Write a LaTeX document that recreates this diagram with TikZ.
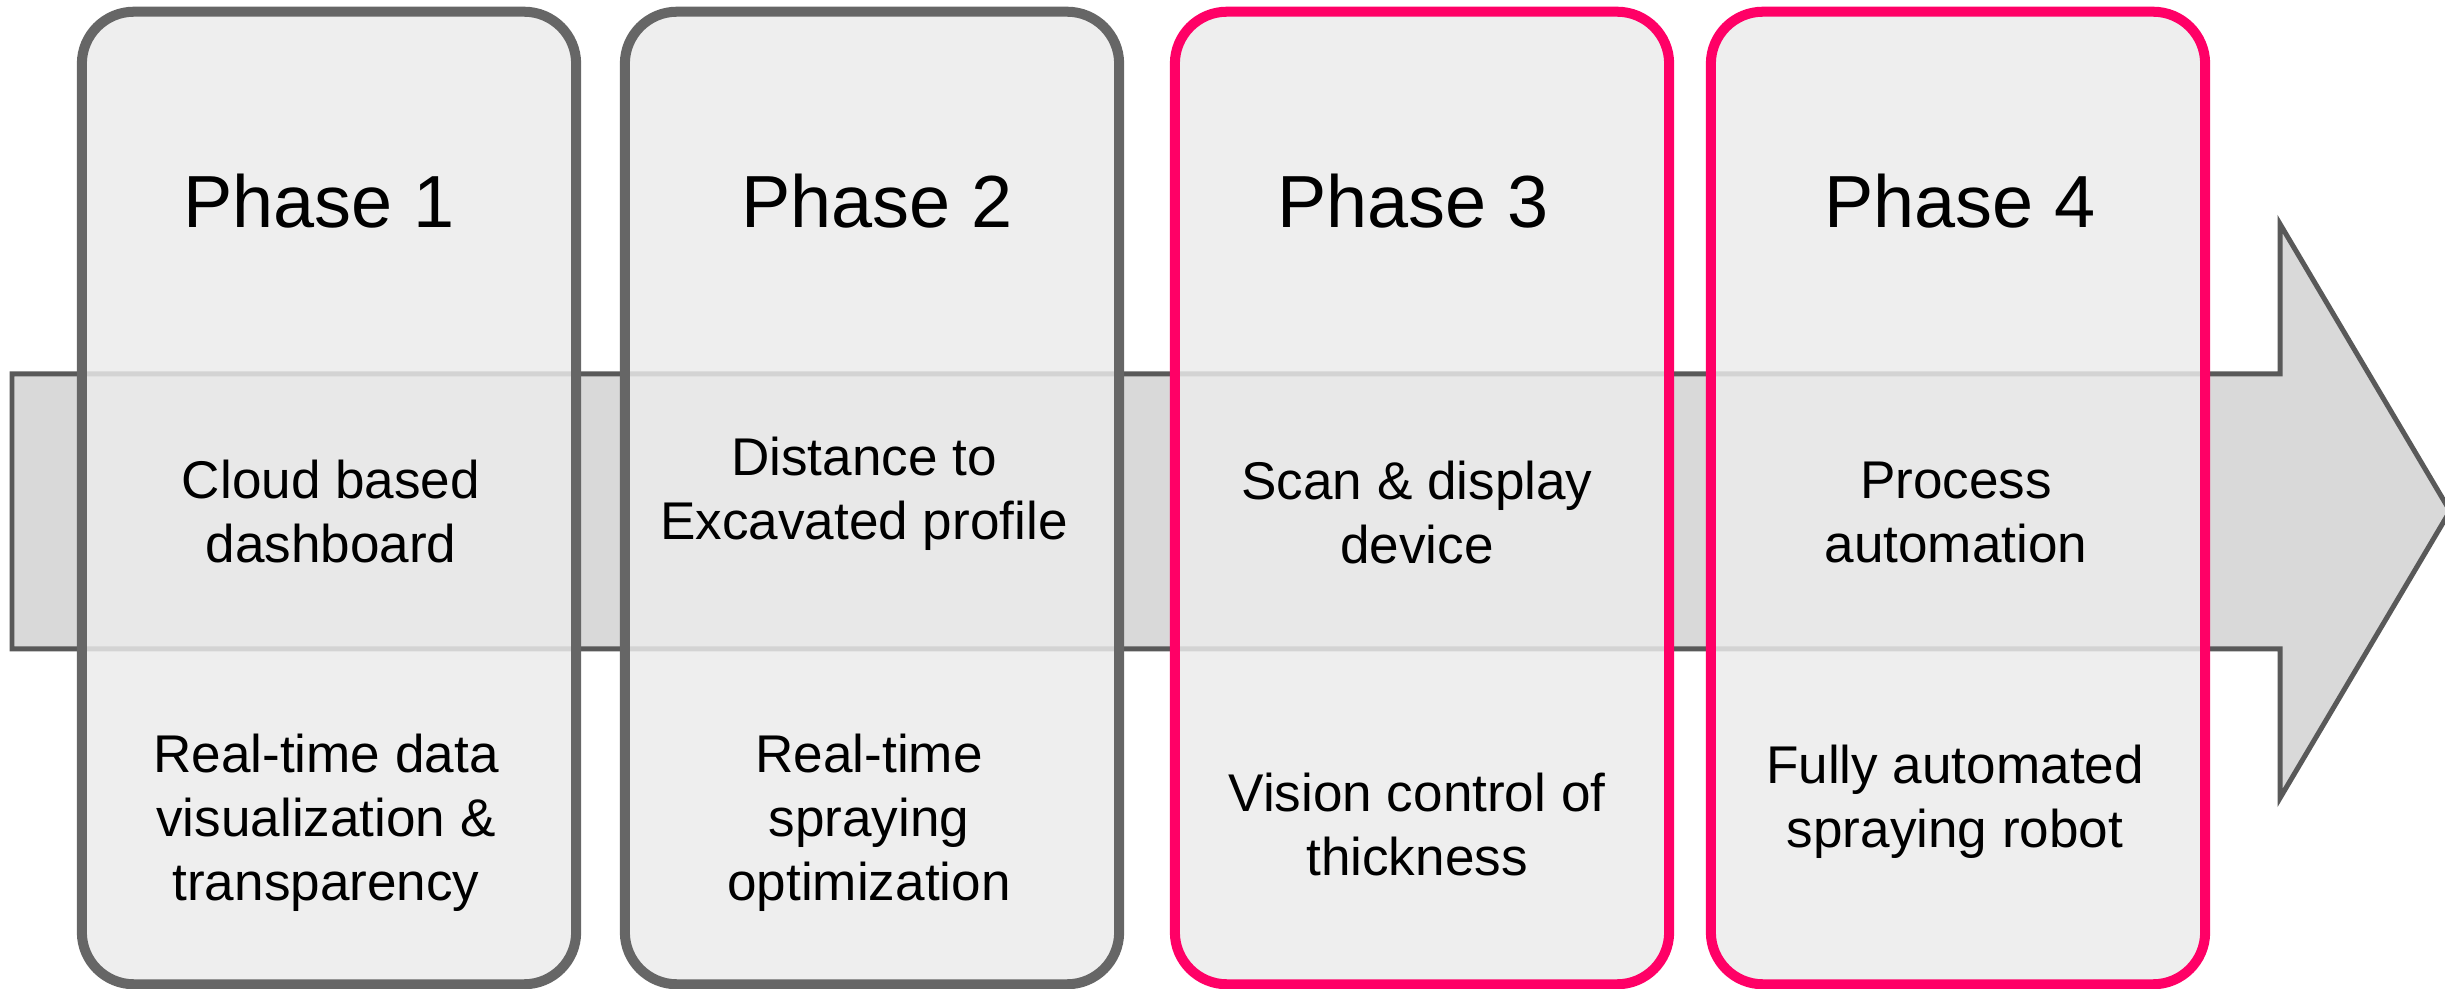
\documentclass[tikz,border=0pt]{standalone}
\usepackage{fontspec}
\setmainfont{Liberation Sans}
\definecolor{boxgray}{HTML}{666666}
\definecolor{boxpink}{HTML}{FF0066}
\definecolor{arrowfill}{HTML}{D9D9D9}
\definecolor{arrowline}{HTML}{595959}
\definecolor{boxfill}{HTML}{EBEBEB}
\begin{document}
\begin{tikzpicture}[x=0.01cm,y=-0.01cm,
  phasebox/.style={rounded corners=0.52cm, line width=2.85pt, fill=boxfill, fill opacity=0.84, minimum width=4.94cm, minimum height=9.72cm, inner sep=0pt, outer sep=0pt},
  title/.style={font=\fontsize{21}{25}\selectfont, anchor=base, inner sep=0pt},
  body/.style={font=\fontsize{15.1}{18.2}\selectfont, anchor=base, align=center, inner sep=0pt}]
\useasboundingbox (0,0) rectangle (2445,989);
% big arrow
\draw[fill=arrowfill, draw=arrowline, line width=1.42pt, line join=miter]
  (12,374) -- (2280,374) -- (2280,224) -- (2450,511) -- (2280,798) -- (2280,649) -- (12,649) -- cycle;
% phase boxes
\node[phasebox, draw=boxgray] (p1) at (329,498) {};
\node[phasebox, draw=boxgray] (p2) at (872,498) {};
\node[phasebox, draw=boxpink] (p3) at (1422,498) {};
\node[phasebox, draw=boxpink] (p4) at (1958,498) {};
% titles
\node[title] (t1) at (319,228) {Phase 1};
\node[title] (t2) at (877,228) {Phase 2};
\node[title] (t3) at (1413,228) {Phase 3};
\node[title] (t4) at (1960,228) {Phase 4};
% middle texts (anchor = baseline of last line)
\node[body] (m1) at (331,563) {Cloud based\\dashboard};
\node[body] (m2) at (864,540) {Distance to\\Excavated profile};
\node[body] (m3) at (1417,564) {Scan \& display\\device};
\node[body] (m4) at (1956,563) {Process\\automation};
% bottom texts
\node[body] (b1) at (326,901) {Real-time data\\visualization \&\\transparency};
\node[body] (b2) at (869,901) {Real-time\\spraying\\optimization};
\node[body] (b3) at (1417,876) {Vision control of\\thickness};
\node[body] (b4) at (1955,848) {Fully automated\\spraying robot};
\end{tikzpicture}
\end{document}
